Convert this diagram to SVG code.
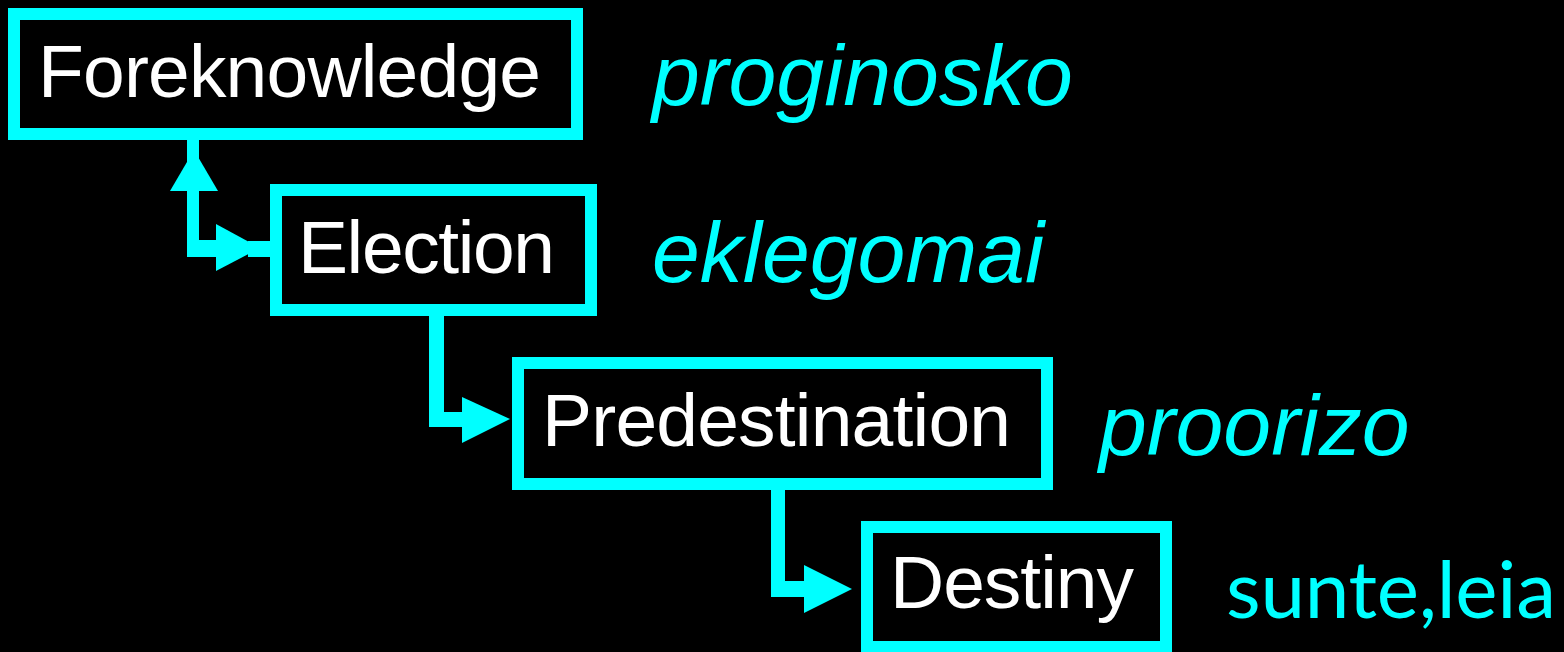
<svg xmlns="http://www.w3.org/2000/svg" width="1564" height="652" viewBox="0 0 1564 652">
  <style>
    .box { fill: #000000; stroke: #00FFFF; stroke-width: 12; }
    .label { fill: #FFFFFF; font-family: "Liberation Sans", Arial, sans-serif; font-size: 75px; }
    .greek { fill: #00FFFF; font-family: "Liberation Sans", Arial, sans-serif; font-size: 86px; font-style: italic; }
    .greek2 { fill: #00FFFF; font-family: Lato, "Open Sans", sans-serif; font-size: 80px; }
    .conn { fill: #00FFFF; stroke: none; }
  </style>
  <rect x="0" y="0" width="1564" height="652" fill="#000000"/>
  <g id="connectors">
    <!-- Foreknowledge <-> Election -->
    <rect class="conn" x="187" y="140" width="12" height="117"/>
    <polygon class="conn" points="170,191 218,191 194,150"/>
    <rect class="conn" x="187" y="240" width="35" height="17"/>
    <polygon class="conn" points="216,224 216,271 260,248"/>
    <rect class="conn" x="248" y="241" width="22" height="16"/>
    <!-- Election -> Predestination -->
    <rect class="conn" x="429" y="314" width="15" height="113"/>
    <rect class="conn" x="429" y="412" width="36" height="15"/>
    <polygon class="conn" points="462,397 462,443 510,419"/>
    <!-- Predestination -> Destiny -->
    <rect class="conn" x="771" y="488" width="14" height="109"/>
    <rect class="conn" x="771" y="581" width="36" height="16"/>
    <polygon class="conn" points="804,565 804,613 852,589"/>
  </g>
  <g id="foreknowledge">
    <rect class="box" x="14" y="14" width="563" height="120"/>
    <text class="label" x="38" y="97" textLength="503">Foreknowledge</text>
  </g>
  <g id="election">
    <rect class="box" x="276" y="190" width="315" height="120"/>
    <text class="label" x="298" y="273" textLength="257">Election</text>
  </g>
  <g id="predestination">
    <rect class="box" x="518" y="363" width="529" height="121"/>
    <text class="label" x="542" y="446" textLength="469">Predestination</text>
  </g>
  <g id="destiny">
    <rect class="box" x="867" y="527" width="299" height="120"/>
    <text class="label" x="890" y="608" textLength="244">Destiny</text>
  </g>
  <g id="greek-terms">
    <text class="greek" x="652" y="105">proginosko</text>
    <text class="greek" x="652" y="282">eklegomai</text>
    <text class="greek" x="1099" y="455">proorizo</text>
    <text class="greek2" x="1226" y="618" textLength="330">sunte,leia</text>
  </g>
</svg>
